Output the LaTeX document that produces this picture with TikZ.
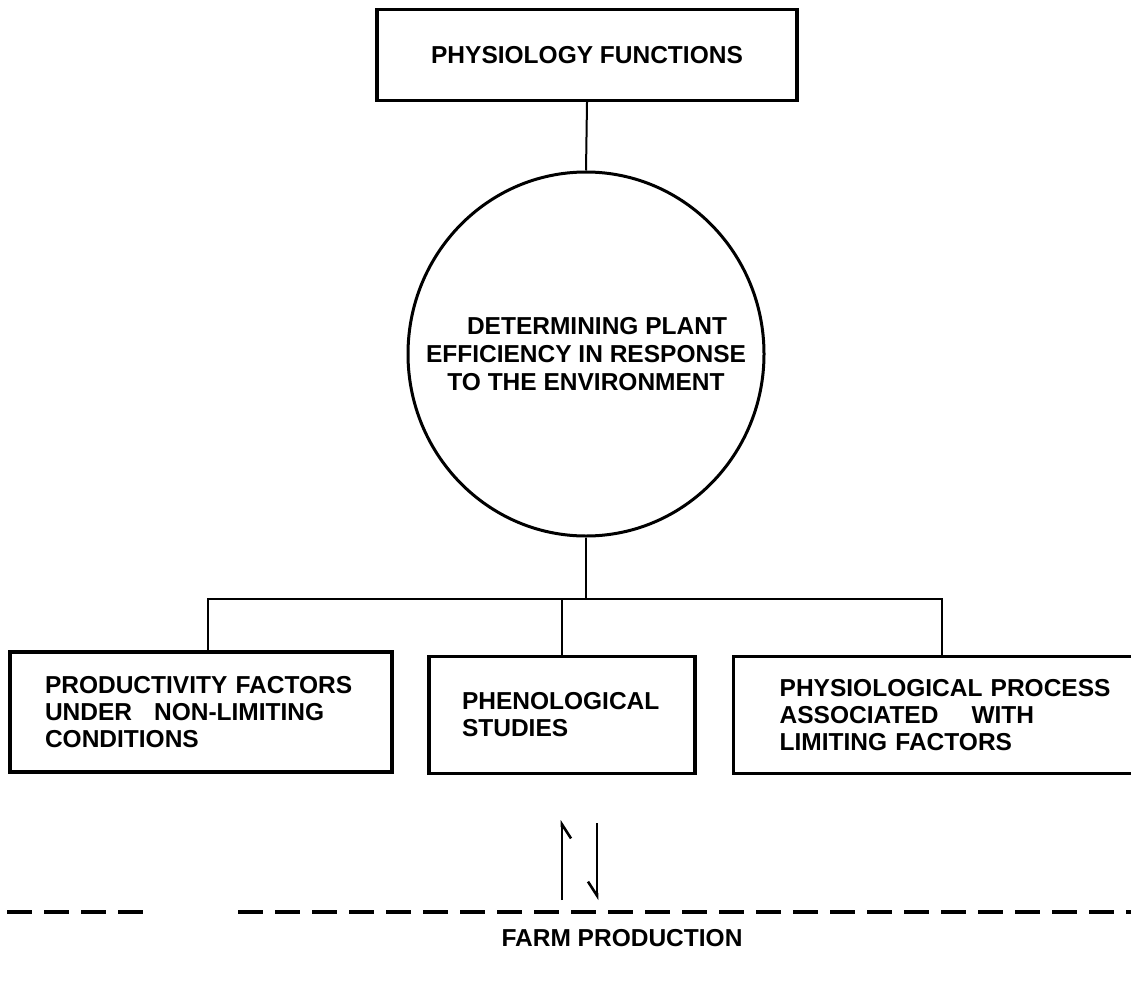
\documentclass[tikz,border=0pt]{standalone}
\usepackage{fontspec}
\setmainfont{Liberation Sans}
\usetikzlibrary{arrows.meta,shapes.geometric}

\begin{document}
\begin{tikzpicture}[x=1pt,y=-1pt,
  every node/.style={font=\fontsize{24.5}{27}\selectfont\bfseries},
  factorbox/.style={draw,rectangle,line width=3.4pt,align=left,inner ysep=0pt},
  link/.style={line width=2pt},
  flux/.style={line width=2.6pt,-{Straight Barb[right,length=14pt,width=18pt]}}]
  \useasboundingbox (0,0) rectangle (1131,982);

  \node[draw,rectangle,line width=3.4pt,minimum width=420pt,minimum height=91pt] (phys) at (587,55) {PHYSIOLOGY FUNCTIONS};
  \node[draw,ellipse,line width=3pt,minimum width=356pt,minimum height=364pt] (eff) at (586,354) {};
  \node[align=center,font=\fontsize{24.5}{28}\selectfont\bfseries] (efftext) at (eff.center) {\hspace{22pt}DETERMINING PLANT\\EFFICIENCY IN RESPONSE\\TO THE ENVIRONMENT};

  \node[factorbox,text width=312pt,inner xsep=35pt,minimum height=120pt] (prod) at (201,712) {PRODUCTIVITY FACTORS\\UNDER\hspace{22pt}NON-LIMITING\\CONDITIONS};
  \node[factorbox,text width=200pt,inner xsep=33pt,minimum height=117pt] (pheno) at (562,715) {PHENOLOGICAL\\STUDIES};
  \node[factorbox,anchor=west,text width=340pt,inner xsep=46pt,minimum height=117pt] (limit) at (732,715) {PHYSIOLOGICAL PROCESS\\ASSOCIATED\hspace{33pt}WITH\\LIMITING FACTORS};

  \node (farm) at (622,938) {FARM PRODUCTION};

  % tree connectors
  \coordinate (hub) at (586,599);
  \draw[link] (phys.south) -- (eff.north);
  \draw[link] (eff.south) -- (hub);
  \draw[link] ([xshift=7pt]prod.north) |- (hub) -| ([xshift=-8pt]limit.north);
  \draw[link] (pheno.north) -- (pheno.north |- hub);

  % exchange with the farm level
  \coordinate (upfoot) at (562,900);
  \coordinate (uptip) at (562,820);
  \coordinate (downfoot) at (597,823);
  \coordinate (downtip) at (597,900);
  \draw[flux] (upfoot) -- (uptip);
  \draw[flux] (downfoot) -- (downtip);

  \coordinate (dashA) at (7,912);
  \coordinate (dashB) at (145,912);
  \coordinate (dashC) at (238,912);
  \coordinate (dashD) at (1131,912);
  \draw[line width=3.4pt,dash pattern=on 25pt off 12pt] (dashA) -- (dashB) (dashC) -- (dashD);
\end{tikzpicture}
\end{document}
